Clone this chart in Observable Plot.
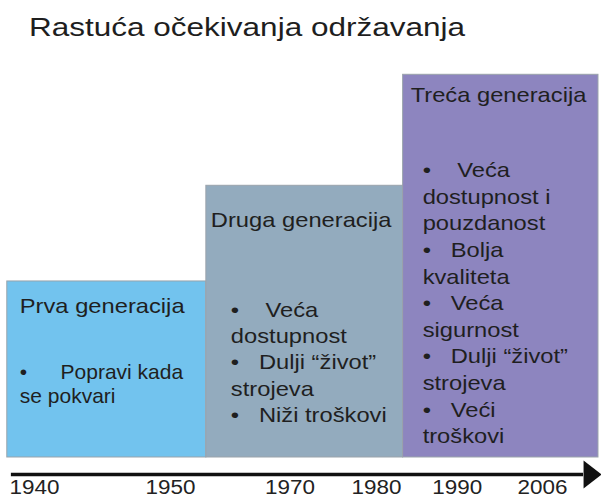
<!DOCTYPE html>
<html><head><meta charset="utf-8">
<script src="https://cdn.jsdelivr.net/npm/d3@7"></script>
<script src="https://cdn.jsdelivr.net/npm/@observablehq/plot@0.6"></script>
<style>
html,body{margin:0;padding:0;background:#fff;}
#wrap{position:relative;width:601px;}
#title{position:relative;height:50px;overflow:visible;}
#title span{position:absolute;left:29px;top:14.5px;font:25px/1 "Liberation Sans",Arial,sans-serif;color:#1e1e1e;transform:scaleX(1.26);transform-origin:0 0;white-space:nowrap;}
svg text, svg tspan{white-space:pre;}
</style></head><body>
<div id="wrap"><div id="title"><span>Rastuća očekivanja održavanja</span></div><div id="chart"></div></div>
<script>
// ---- data ----
const generations = ["Prva generacija", "Druga generacija", "Treća generacija"];
const startYears = [1938, 1956, 1983.3];
const endYears = [1956, 1983.3, 2016.5];
const expectationLevels = [46, 71, 100];
const bodyLines = [
  ["•     \u2009Popravi kada", "se pokvari"],
  ["•    Veća", "dostupnost", "•   Dulji “život”", "strojeva", "•   Niži troškovi"],
  ["•    Veća", "dostupnost i", "pouzdanost", "•   Bolja", "kvaliteta", "•   Veća", "sigurnost", "•   Dulji “život”", "strojeva", "•   Veći", "troškovi"]
];
const tickYears = [1940, 1950, 1970, 1980, 1990, 2006];
const tickLabels = ["1940", "1950", "1970", "1980", "1990", "2006"];
const axisYears = [1938.3, 2013.7];
const palette = ["#72C3EE", "#93ABBE", "#8D85BF"];

// ---- layout (positions / styles) ----
const tickPixels = [34, 170, 289.5, 376, 456.7, 542];
const titleOffsets = [[12.5, 31.7], [4.5, 41], [7.5, 27.4]];
const bodyOffsets = [[12.5, 121.7, 1.14], [24.5, 236, 1.25], [19.5, 368.4, 1.267]];
const titleStretch = 1.13;
const bodyStretch = [1, 1.13, 1.13];
const tickStretch = 1.07;
const font = "Liberation Sans, Arial, sans-serif";
const textColor = "#1f1f1f";

const idx = generations.map((_, i) => i);

const arrowHead = {
  draw(context, size) {
    const r = Math.sqrt(size / Math.PI);
    context.moveTo(0, -r);
    context.lineTo(r * 18 / 14, 0);
    context.lineTo(0, r);
    context.closePath();
  }
};

const chart = Plot.plot({
  width: 601, height: 448,
  marginTop: 24.3, marginBottom: 41, marginLeft: 0, marginRight: 0,
  style: {fontFamily: font, background: "#fff"},
  x: {type: "linear", domain: tickYears, range: tickPixels, axis: null},
  y: {type: "linear", domain: [0, 100], axis: null},
  color: {domain: generations, range: palette},
  marks: [
    Plot.rect(idx, {
      x1: i => startYears[i], x2: i => endYears[i],
      y1: 0, y2: i => expectationLevels[i],
      fill: i => generations[i], stroke: "#9aa3ab", strokeWidth: 1
    }),
    ...idx.map(i => Plot.text([i], {
      x: d => startYears[d], y: d => expectationLevels[d], text: d => generations[d],
      dx: titleOffsets[i][0], dy: titleOffsets[i][1],
      textAnchor: "start", lineAnchor: "bottom", fontSize: 21, fill: textColor
    })),
    ...idx.map(i => Plot.text([i], {
      x: d => startYears[d], y: d => expectationLevels[d], text: d => bodyLines[d].join("\n"),
      dx: bodyOffsets[i][0], dy: bodyOffsets[i][1], lineHeight: bodyOffsets[i][2],
      textAnchor: "start", lineAnchor: "bottom", fontSize: 21, fill: textColor
    })),
    Plot.ruleY([0], {x1: axisYears[0], x2: axisYears[1], dy: 17, stroke: "#111", strokeWidth: 3.5}),
    Plot.dot([0], {x: () => axisYears[1], y: 0, dy: 17, r: 14, symbol: arrowHead, fill: "#111", stroke: "none"}),
    Plot.text(tickYears, {
      x: d => d, y: 0, text: (d, i) => tickLabels[i],
      dy: 36, textAnchor: "middle", lineAnchor: "bottom", fontSize: 21, fill: "#222"
    })
  ]
});

function stretchGroup(g, sx) {
  if (!g || sx === 1) return;
  g.querySelectorAll("text").forEach(t => {
    const tr = t.getAttribute("transform");
    if (tr) t.setAttribute("transform", tr + ` scale(${sx},1)`);
    else {
      const x = +t.getAttribute("x") || 0;
      t.setAttribute("transform", `translate(${x},0) scale(${sx},1) translate(${-x},0)`);
    }
  });
}
const groups = Array.from(chart.children).filter(n => n.tagName.toLowerCase() === "g");
// order: 0 rect, 1-3 titles, 4-6 bodies, 7 rule, 8 dot, 9 ticks
idx.forEach(i => stretchGroup(groups[1 + i], titleStretch));
idx.forEach(i => stretchGroup(groups[4 + i], bodyStretch[i]));
stretchGroup(groups[9], tickStretch);

document.getElementById("chart").appendChild(chart);
</script>
</body></html>
